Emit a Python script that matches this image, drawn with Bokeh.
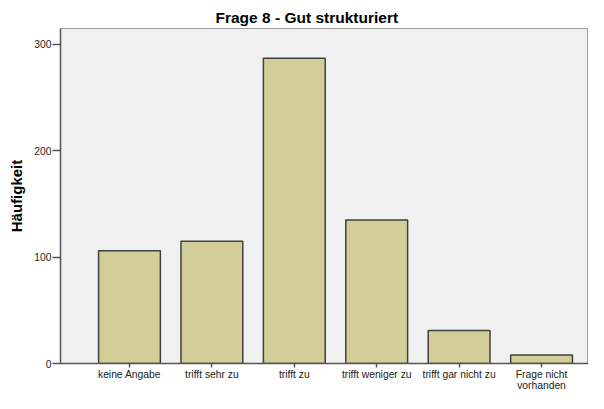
from bokeh.plotting import figure
from bokeh.models import Range1d, FixedTicker, ColumnDataSource
from bokeh.embed import file_html
from bokeh.resources import INLINE

categories = ["keine Angabe", "trifft sehr zu", "trifft zu", "trifft weniger zu",
              "trifft gar nicht zu", "Frage nicht\nvorhanden"]
counts = [106, 115, 287, 135, 31, 8]
y_ticks = [0, 100, 200, 300]

xs = list(range(len(categories)))
src = ColumnDataSource(dict(x=xs, top=counts))

p = figure(width=588, height=393, output_backend="svg", toolbar_location=None,
           x_range=Range1d(-0.837, 5.57), y_range=Range1d(0, 315),
           min_border_left=60, min_border_right=0, min_border_top=28, min_border_bottom=0,
           title="Frage 8 - Gut strukturiert")

p.vbar(x="x", top="top", width=0.75, source=src, fill_color="#d3ce97",
       line_color="#404040", line_width=1.5)

p.title.align = "left"
p.title.offset = 155
p.title.text_font = "Liberation Sans"
p.title.text_font_size = "15.5px"
p.title.text_font_style = "bold"
p.title.text_color = "#000000"
p.title.standoff = 6

p.background_fill_color = "#f0f0f0"
p.border_fill_color = "#ffffff"
p.outline_line_color = "#a0a0a0"
p.xgrid.visible = False
p.ygrid.visible = False

p.xaxis.ticker = FixedTicker(ticks=xs)
p.xaxis.major_label_overrides = {i: c for i, c in enumerate(categories)}
p.yaxis.ticker = FixedTicker(ticks=y_ticks)

for ax in (p.xaxis[0], p.yaxis[0]):
    ax.axis_line_color = "#555555"
    ax.axis_line_width = 1.5
    ax.major_tick_line_color = "#555555"
    ax.major_tick_line_width = 1.5
    ax.major_tick_in = 0
    ax.minor_tick_line_color = None
    ax.major_label_text_font = "Liberation Sans"
    ax.major_label_text_font_size = "10.3px"
    ax.major_label_text_color = "#222222"

p.xaxis.major_tick_out = 4
p.xaxis.major_label_standoff = 1
p.xaxis.major_label_text_line_height = 1.0
p.xaxis.axis_label_standoff = 0
p.xaxis.axis_label_text_font_size = "0px"
p.yaxis.major_tick_out = 8
p.yaxis.major_label_standoff = 1

p.yaxis.axis_label = "Häufigkeit"
p.yaxis.axis_label_text_font = "Liberation Sans"
p.yaxis.axis_label_text_font_size = "15px"
p.yaxis.axis_label_text_font_style = "bold"
p.yaxis.axis_label_text_color = "#000000"
p.yaxis.axis_label_standoff = 6

open("out.html", "w").write(file_html(p, INLINE))
